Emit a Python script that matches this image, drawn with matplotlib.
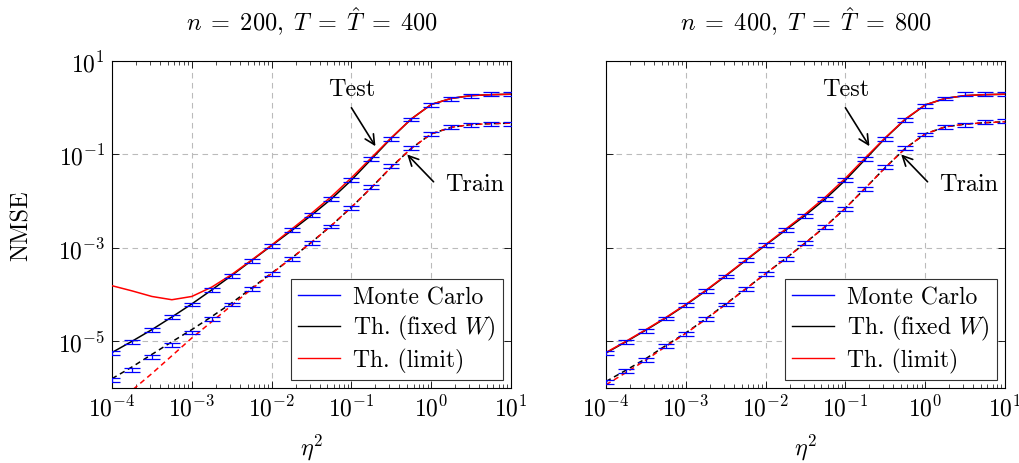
import numpy as np
import matplotlib
matplotlib.use('Agg')
import matplotlib.pyplot as plt
from matplotlib.lines import Line2D

plt.rcParams['font.family'] = 'cmr10'
plt.rcParams['mathtext.fontset'] = 'cm'
plt.rcParams['axes.formatter.use_mathtext'] = True
plt.rcParams['font.size'] = 17.5

# eta^2 grid (0.25 decade steps from 1e-4 to 1e1)
eta2 = 10 ** np.arange(-4, 1.01, 0.25)

# ---- left panel: n = 200, T = 400 (log10 NMSE) ----
mc_test_200 = [-5.25, -5.01, -4.75, -4.48, -4.21, -3.89, -3.59, -3.27, -2.95, -2.62, -2.30,
               -1.95, -1.55, -1.09, -0.66, -0.25, 0.06, 0.19, 0.26, 0.29, 0.29]
mc_train_200 = [-5.82, -5.61, -5.34, -5.07, -4.81, -4.52, -4.21, -3.88, -3.55, -3.23, -2.89,
                -2.54, -2.14, -1.70, -1.25, -0.86, -0.56, -0.41, -0.36, -0.34, -0.34]
th_test_200 = [-5.24, -5.00, -4.75, -4.48, -4.20, -3.90, -3.59, -3.27, -2.95, -2.63, -2.30,
               -1.95, -1.55, -1.10, -0.65, -0.24, 0.07, 0.20, 0.26, 0.28, 0.29]
lim_test_200 = [-3.81, -3.92, -4.04, -4.11, -4.04, -3.84, -3.57, -3.26, -2.94, -2.60, -2.26,
                -1.90, -1.50, -1.07, -0.64, -0.24, 0.07, 0.20, 0.26, 0.28, 0.29]
th_train_200 = [-5.80, -5.55, -5.28, -5.01, -4.75, -4.47, -4.18, -3.86, -3.54, -3.22, -2.88,
                -2.52, -2.13, -1.71, -1.27, -0.87, -0.56, -0.42, -0.36, -0.34, -0.33]
lim_train_200 = [-6.40, -6.05, -5.69, -5.31, -4.93, -4.58, -4.23, -3.88, -3.55, -3.22, -2.88,
                 -2.52, -2.13, -1.71, -1.27, -0.87, -0.56, -0.42, -0.36, -0.34, -0.33]

# ---- right panel: n = 400, T = 800 ----
mc_test_400 = [-5.25, -5.02, -4.77, -4.51, -4.23, -3.93, -3.61, -3.26, -2.94, -2.62, -2.32,
               -1.95, -1.54, -1.09, -0.66, -0.26, 0.04, 0.20, 0.29, 0.29, 0.29]
mc_train_400 = [-5.87, -5.63, -5.39, -5.09, -4.84, -4.52, -4.21, -3.88, -3.55, -3.24, -2.89,
                -2.55, -2.16, -1.73, -1.27, -0.86, -0.57, -0.41, -0.36, -0.31, -0.29]
th_test_400 = [-5.25, -5.01, -4.76, -4.50, -4.22, -3.92, -3.60, -3.27, -2.94, -2.62, -2.30,
               -1.95, -1.55, -1.10, -0.65, -0.25, 0.06, 0.20, 0.26, 0.28, 0.29]
lim_test_400 = [-5.24, -5.00, -4.75, -4.49, -4.21, -3.91, -3.59, -3.26, -2.93, -2.60, -2.27,
                -1.91, -1.51, -1.07, -0.64, -0.24, 0.06, 0.20, 0.26, 0.28, 0.29]
th_train_400 = [-5.86, -5.62, -5.37, -5.09, -4.82, -4.52, -4.20, -3.88, -3.55, -3.23, -2.89,
                -2.54, -2.15, -1.72, -1.28, -0.87, -0.56, -0.41, -0.35, -0.32, -0.30]
lim_train_400 = [-5.93, -5.67, -5.40, -5.11, -4.83, -4.53, -4.21, -3.88, -3.55, -3.23, -2.89,
                 -2.54, -2.15, -1.72, -1.28, -0.87, -0.56, -0.41, -0.35, -0.32, -0.30]

titles = [r'$n\;=\;200,\;T\;=\;\hat{T}\;=\;400$', r'$n\;=\;400,\;T\;=\;\hat{T}\;=\;800$']
panels = [
    (mc_test_200, mc_train_200, th_test_200, th_train_200, lim_test_200, lim_train_200),
    (mc_test_400, mc_train_400, th_test_400, th_train_400, lim_test_400, lim_train_400),
]

fig = plt.figure(figsize=(10.2, 4.64), dpi=100)
axes = [fig.add_axes([0.1098, 0.1616, 0.3912, 0.7047]),
        fig.add_axes([0.5941, 0.1616, 0.3912, 0.7047])]

blue = '#0000ff'
for i, ax in enumerate(axes):
    mct, mctr, tht, thtr, lmt, lmtr = [10 ** np.array(v) for v in panels[i]]
    ax.plot(eta2, lmt, '-', color='red', lw=1.1, zorder=3)
    ax.plot(eta2, lmtr, '--', color='red', lw=1.1, dashes=(3.5, 2.5), zorder=3)
    ax.plot(eta2, tht, '-', color='black', lw=1.1, zorder=2)
    ax.plot(eta2, thtr, '--', color='black', lw=1.1, dashes=(3.5, 2.5), zorder=2)
    for mc in (mct, mctr):
        err = mc * (10 ** 0.04 - 1)
        ax.errorbar(eta2, mc, yerr=err, fmt='none', ecolor=blue, elinewidth=0.9,
                    capsize=6, capthick=0.9, zorder=4)

    ax.set_xscale('log')
    ax.set_yscale('log')
    ax.set_xlim(1e-4, 1e1)
    ax.set_ylim(1e-6, 1e1)
    ax.set_xticks([1e-4, 1e-3, 1e-2, 1e-1, 1e0, 1e1])
    ax.set_yticks([1e-5, 1e-3, 1e-1, 1e1])
    ax.yaxis.set_minor_locator(matplotlib.ticker.NullLocator())
    ax.tick_params(which='both', direction='in', top=True, right=True)
    ax.tick_params(which='major', length=5, width=0.6, pad=5, labelsize=17)
    ax.tick_params(which='minor', length=3, width=0.5)
    ax.grid(True, which='major', color='#bbbbbb', linestyle=(0, (5, 4)), lw=0.8)
    for s in ax.spines.values():
        s.set_linewidth(0.8)
    ax.set_title(titles[i], fontsize=17.5, pad=22)
    ax.set_xlabel(r'$\eta^2$', labelpad=8)
    if i == 0:
        ax.set_ylabel('NMSE', labelpad=18)
    else:
        ax.set_yticklabels([])

    arrow = dict(arrowstyle='->', lw=1.2, color='black', shrinkA=0, shrinkB=0)
    ax.text(0.1, 2.5, 'Test', ha='center', va='center')
    ax.annotate('', xy=(0.2, 0.15), xytext=(0.1, 1.0), arrowprops=arrow)
    ax.text(3.5, 0.023, 'Train', ha='center', va='center')
    ax.annotate('', xy=(0.5, 0.1), xytext=(1.07, 0.026), arrowprops=arrow)

    handles = [Line2D([], [], color=blue, lw=1), Line2D([], [], color='black', lw=1),
               Line2D([], [], color='red', lw=1)]
    leg = ax.legend(handles, ['Monte Carlo', r'Th. (fixed $W$)', 'Th. (limit)'],
                    loc='lower right', fancybox=False, framealpha=1, edgecolor='#333333',
                    fontsize=17, borderaxespad=0.35, handlelength=1.8, handletextpad=0.55,
                    labelspacing=0.22, borderpad=0.3)
    leg.get_frame().set_linewidth(0.8)

fig.savefig('out.png', dpi=100)
